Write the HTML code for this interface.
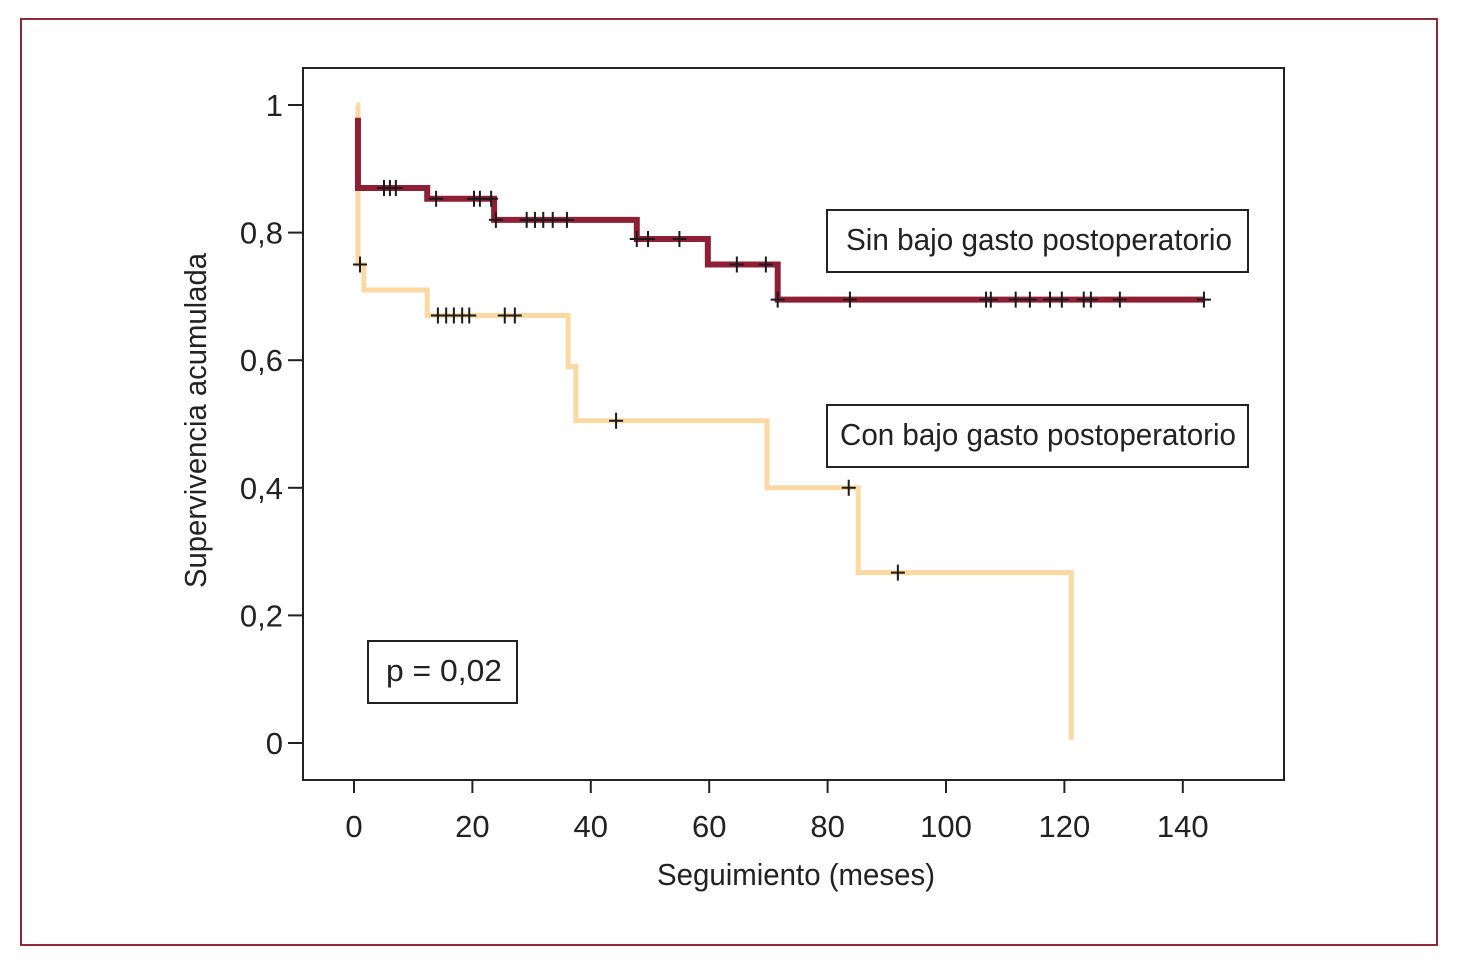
<!DOCTYPE html>
<html><head><meta charset="utf-8"><style>
html,body{margin:0;padding:0;background:#fff;}
svg{display:block;font-family:"Liberation Sans Narrow","Liberation Sans",sans-serif;}
</style></head><body>
<svg id="chart" width="1458" height="966" viewBox="0 0 1458 966" xmlns="http://www.w3.org/2000/svg">
<rect x="21" y="19" width="1416" height="926" fill="#fff" stroke="#8c2a3c" stroke-width="2"/>
<rect x="303" y="68" width="981" height="712" fill="none" stroke="#222" stroke-width="2"/>
<g id="axes"></g>
<g id="series"></g>
<g>
<rect x="827" y="210" width="421" height="62" fill="#fff" stroke="#222" stroke-width="2"/>
<text x="846" y="250" font-size="31" fill="#222" textLength="386" lengthAdjust="spacingAndGlyphs">Sin bajo gasto postoperatorio</text>
</g>
<g>
<rect x="827" y="405" width="421" height="62" fill="#fff" stroke="#222" stroke-width="2"/>
<text x="840" y="445" font-size="31" fill="#222" textLength="396" lengthAdjust="spacingAndGlyphs">Con bajo gasto postoperatorio</text>
</g>
<g>
<rect x="368" y="641" width="149" height="62" fill="#fff" stroke="#222" stroke-width="2"/>
<text x="386" y="681" font-size="31" fill="#222" textLength="116" lengthAdjust="spacingAndGlyphs">p  = 0,02</text>
</g>
<text x="0" y="0" transform="translate(206,588) rotate(-90)" font-size="31" fill="#222" textLength="335" lengthAdjust="spacingAndGlyphs">Supervivencia acumulada</text>
<text x="657" y="885" font-size="31" fill="#222" textLength="278" lengthAdjust="spacingAndGlyphs">Seguimiento (meses)</text>
</svg>
<script>
const xTicks=[0,20,40,60,80,100,120,140];
const yTicks=[0,0.2,0.4,0.6,0.8,1];
const yTickLabels=["0","0,2","0,4","0,6","0,8","1"];
const sinStart=0.98;
const sinTimes=[0.5,12.2,23.5,47.6,59.6,71.4];
const sinSurv=[0.87,0.853,0.82,0.79,0.75,0.695];
const sinEnd=143.6;
const sinCensor=[4.9,5.9,6.9,13.7,20.1,21.1,23.0,23.8,29.0,30.4,31.8,33.4,35.8,47.6,49.5,54.8,64.5,69.4,71.4,83.6,106.6,107.4,111.6,114.0,117.4,119.4,123.1,124.3,129.2,143.4];
const conStart=1.0;
const conTimes=[0.5,1.5,12.2,36,37.3,69.6,85,121];
const conSurv=[0.75,0.71,0.67,0.59,0.505,0.40,0.267,0.005];
const conEnd=121;
const conCensor=[0.85,14.0,15.4,16.7,18.1,19.3,25.3,27.0,44.1,83.4,91.7];

const NS='http://www.w3.org/2000/svg';
function X(t){return 355+t*5.92;}
function Y(s){return 743-s*638;}
function mk(tag,attrs,parent){const e=document.createElementNS(NS,tag);for(const k in attrs)e.setAttribute(k,attrs[k]);parent.appendChild(e);return e;}
const axes=document.getElementById('axes');
xTicks.forEach((v,i)=>{
  const l=mk('line',{x1:X(v)-1,x2:X(v)-1,y1:780,y2:793,stroke:'#222','stroke-width':2},axes);
  
  
  const t=mk('text',{x:X(v)-1,y:837,'font-size':31,fill:'#222','text-anchor':'middle'},axes);
  t.textContent=String(v);
  
  
});
yTicks.forEach((v,i)=>{
  const l=mk('line',{x1:288,x2:303,y1:Y(v),y2:Y(v),stroke:'#222','stroke-width':2},axes);
  
  
  const t=mk('text',{x:283,y:Y(v)+11,'font-size':31,fill:'#222','text-anchor':'end'},axes);
  t.textContent=yTickLabels[i];
  
  
});
function survAt(t,start,times,surv){let s=start;for(let i=0;i<times.length;i++){if(t>=times[i])s=surv[i];}return s;}
function stepPath(x0,start,times,surv,end){
  let d='M'+X(x0)+','+Y(start);
  let s=start;
  for(let i=0;i<times.length;i++){d+=' L'+X(times[i])+','+Y(s)+' L'+X(times[i])+','+Y(surv[i]);s=surv[i];}
  d+=' L'+X(end)+','+Y(s);return d;
}
const g=document.getElementById('series');
const pc=mk('path',{d:stepPath(0.3,conStart,conTimes,conSurv,conEnd),fill:'none',stroke:'#fcd9a2','stroke-width':5,'stroke-linejoin':'miter'},g);


const ps=mk('path',{d:stepPath(0.5,sinStart,sinTimes,sinSurv,sinEnd),fill:'none',stroke:'#8e1f35','stroke-width':6,'stroke-linejoin':'miter'},g);


function censor(t,s,name){
  const cx=X(t),cy=Y(s);
  const c=mk('path',{d:'M'+(cx-7)+','+cy+' H'+(cx+7)+' M'+cx+','+(cy-8)+' V'+(cy+8),stroke:'#1a1a1a','stroke-width':2,fill:'none'},g);
  
  
}
conCensor.forEach(t=>censor(t,survAt(t,conStart,conTimes,conSurv),'con-censor-mark'));
sinCensor.forEach(t=>censor(t,survAt(t,sinStart,sinTimes,sinSurv),'sin-censor-mark'));
</script>
</body></html>
